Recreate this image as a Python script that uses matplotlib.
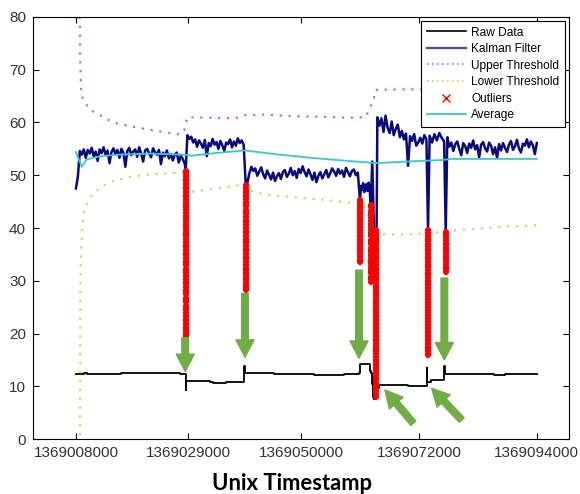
import numpy as np
import matplotlib
matplotlib.use("Agg")
import matplotlib.pyplot as plt
from matplotlib.lines import Line2D

plt.rcParams['font.family'] = ['Liberation Sans', 'DejaVu Sans']

# medição bruta (degraus)
raw_t = [1369008000, 1369009500, 1369010000, 1369016000, 1369016500, 1369027000, 1369027500,
         1369028400, 1369028500, 1369028600, 1369033000, 1369033500, 1369036000, 1369039300,
         1369039400, 1369039500, 1369045000, 1369048000, 1369052000, 1369052500, 1369058000,
         1369060800, 1369061000, 1369062600, 1369062800, 1369063000, 1369063200, 1369063400,
         1369063500, 1369063600, 1369063700, 1369063800, 1369063900, 1369064000, 1369064100,
         1369064300, 1369064500, 1369068000, 1369070000, 1369073350, 1369073450, 1369073550,
         1369074000, 1369074300, 1369076600, 1369076700, 1369076800, 1369085000, 1369086000,
         1369088000, 1369094000]
raw_v = [12.4, 12.5, 12.3, 12.3, 12.5, 12.5, 12.4,
         12.3, 9.3, 11.0, 10.9, 10.7, 10.8, 11.2,
         13.8, 12.5, 12.4, 12.3, 12.3, 12.2, 12.3,
         12.5, 14.2, 14.2, 12.8, 12.6, 10.5, 8.0,
         11.5, 7.5, 10.8, 8.4, 10.5, 9.0, 10.6,
         9.6, 10.3, 10.2, 10.0, 10.1, 13.4, 10.8,
         10.9, 11.2, 11.3, 13.8, 12.3, 12.3, 12.2,
         12.3, 12.3]

# saída do filtro de Kalman, por trecho
kal_1 = [47.5, 49.7, 54.6, 53.9, 54.9, 53.3, 54.8, 54.1, 55.2, 53.6, 54.5, 52.7, 54.9, 54.2,
         55.3, 53.9, 54.7, 52.3, 54.4, 55.1, 54.0, 54.8, 53.3, 55.0, 54.3, 51.6, 54.6, 55.2,
         53.8, 54.5, 54.9, 53.5, 55.3, 54.1, 52.6, 54.7, 55.0, 54.2, 53.4, 55.1, 54.4, 53.9,
         54.8, 52.1, 54.3, 53.6, 54.7, 53.2, 54.0, 52.8, 53.9, 54.3, 52.4, 53.7, 53.1, 52.2]
kal_2 = [57.6, 56.9, 57.3, 56.2, 56.8, 55.4, 56.6, 56.0, 55.2, 56.7, 53.6, 56.1, 55.5, 56.9,
         55.8, 56.3, 55.0, 56.5, 55.7, 54.6, 56.2, 55.9, 56.8, 55.3, 56.4, 55.6, 57.0, 56.1,
         56.6, 55.8]
kal_3 = [48.6, 50.4, 51.6, 50.8, 51.3, 49.9, 50.7, 51.5, 50.2, 49.4, 50.9, 50.1, 49.2, 50.5,
         48.9, 49.8, 50.4, 49.3, 50.6, 51.0, 49.7, 50.3, 51.4, 50.0, 50.8, 49.5, 51.2, 50.4,
         51.7, 50.6, 49.8, 51.1, 50.2, 49.1, 50.5, 48.7, 49.9, 50.6, 49.4, 50.2, 51.0, 49.6,
         50.4, 51.3, 50.7, 49.9, 51.2, 50.3, 50.9, 49.7, 51.4, 50.6, 49.8, 50.8, 51.1, 50.0,
         50.5]
kal_4 = [48.0, 47.2, 48.5, 46.8, 47.9, 48.3, 47.0, 48.6, 47.5]
kal_5 = [61.0, 59.4, 60.8, 58.2, 61.3, 59.0, 58.0, 60.2, 57.6, 58.8, 59.6, 57.2, 58.4, 56.8,
         57.9, 51.8, 57.4, 56.5, 57.8, 55.6, 56.2, 57.1, 56.0, 57.6, 56.8]
kal_6 = [57.5, 56.2, 57.8, 56.6, 58.0, 57.1, 56.4]
kal_7 = [57.2, 55.4, 56.2, 54.6, 55.9, 56.4, 55.0, 53.8, 56.1, 55.5, 54.2, 56.0, 55.2, 56.6,
         54.9, 55.7, 53.4, 55.8, 56.3, 55.1, 54.5, 56.2, 55.6, 54.0, 55.3, 53.3, 55.9, 54.7,
         56.1, 55.2, 54.4, 55.8, 56.5, 54.8, 55.5, 56.7, 55.1, 54.3, 56.0, 55.6, 56.8, 55.3,
         56.4, 55.7, 54.0, 56.1]
kal_trechos = [(1369008000, 1369028300, kal_1),
               (1369028800, 1369039300, kal_2),
               (1369040000, 1369060600, kal_3),
               (1369061200, 1369062800, kal_4),
               (1369064250, 1369073400, kal_5),
               (1369074000, 1369076700, kal_6),
               (1369077300, 1369094000, kal_7)]
kal_event_t = [1369028500, 1369039700, 1369061000, 1369063000, 1369063300, 1369063600,
               1369064100, 1369073700, 1369077000]
kal_event_v = [51.0, 48.1, 45.3, 44.4, 52.6, 39.6, 39.8, 39.6, 39.3]

# limiares
sup_t = [1369008700, 1369008800, 1369009000, 1369009350, 1369010650, 1369012500, 1369014950,
         1369018100, 1369021850, 1369025600, 1369027450, 1369028200, 1369028800, 1369037750,
         1369039600, 1369043350, 1369048000, 1369053600, 1369059250, 1369062050, 1369063550,
         1369063900, 1369071400, 1369094000]
sup_v = [85.0, 72.0, 65.5, 64.3, 62.4, 61.4, 60.0, 59.3, 58.6, 58.0, 57.7, 58.5, 61.0, 60.8,
         61.4, 61.5, 61.2, 61.1, 60.9, 61.0, 64.3, 66.2, 66.3, 66.6]
inf_t = [1369008750, 1369008850, 1369009000, 1369009350, 1369010300, 1369011600, 1369014400,
         1369018100, 1369021900, 1369027500, 1369028300, 1369028800, 1369030000, 1369037700,
         1369039200, 1369039700, 1369043400, 1369048000, 1369053600, 1369059300, 1369061500,
         1369063500, 1369064500, 1369068200, 1369073800, 1369079400, 1369086900, 1369094000]
inf_v = [-1.0, 30.0, 36.5, 42.1, 45.3, 46.9, 48.8, 49.7, 50.2, 50.5, 50.6, 47.0, 46.9, 48.0,
         48.2, 47.3, 46.3, 45.9, 45.4, 44.8, 44.6, 40.5, 38.9, 38.7, 39.0, 39.6, 40.2, 40.5]

# outliers detectados (um grupo por evento)
out_t = [1369028500, 1369039700, 1369061100, 1369063000, 1369063900, 1369073700, 1369077000]
out_v = [
    [50.9, 50.4, 49.8, 49.3, 48.9, 48.3, 47.8, 47.4, 46.9, 46.3, 45.8, 45.4, 44.8, 44.3, 43.9,
     43.4, 42.8, 42.3, 41.9, 41.3, 40.8, 40.4, 39.9, 39.3, 38.8, 38.4, 37.9, 37.3, 36.8, 36.4,
     35.8, 35.3, 34.9, 34.4, 33.8, 33.3, 32.9, 32.3, 31.8, 31.4, 30.9, 30.3, 29.8, 29.4, 28.8,
     28.3, 27.9, 27.4, 26.8, 26.3, 25.9, 25.3, 24.8, 24.4, 23.9, 23.3, 22.8, 22.4, 21.8, 21.3,
     20.9, 20.4, 19.9, 19.6],
    [48.1, 47.6, 47.0, 46.6, 46.1, 45.5, 45.0, 44.6, 44.1, 43.5, 43.0, 42.6, 42.0, 41.5, 41.1,
     40.6, 40.0, 39.5, 39.1, 38.5, 38.0, 37.6, 37.1, 36.5, 36.0, 35.6, 35.0, 34.5, 34.1, 33.6,
     33.0, 32.5, 32.1, 31.5, 31.0, 30.6, 30.1, 29.5, 29.0, 28.6, 28.2],
    [45.3, 44.8, 44.2, 43.7, 43.3, 42.8, 42.2, 41.7, 41.3, 40.8, 40.2, 39.7, 39.3, 38.7, 38.2,
     37.8, 37.3, 36.7, 36.2, 35.8, 35.3, 34.7, 34.2, 33.8, 33.6],
    [44.4, 43.9, 43.3, 42.8, 42.4, 41.9, 41.3, 40.8, 40.4, 39.8, 39.3, 38.9, 38.4, 37.8, 37.3,
     36.9, 36.3, 35.8, 35.4, 34.9, 34.3, 33.8, 33.4, 32.8, 32.3, 31.9, 31.4, 30.8, 30.3, 29.8],
    [39.6, 39.1, 38.5, 38.0, 37.6, 37.1, 36.5, 36.0, 35.6, 35.0, 34.5, 34.1, 33.6, 33.0, 32.5,
     32.1, 31.5, 31.0, 30.6, 30.1, 29.5, 29.0, 28.6, 28.0, 27.5, 27.1, 26.6, 26.0, 25.5, 25.1,
     24.5, 24.0, 23.6, 23.1, 22.5, 22.0, 21.6, 21.0, 20.5, 20.1, 19.6, 19.0, 18.5, 18.1, 17.5,
     17.0, 16.6, 16.1, 15.5, 15.0, 14.6, 14.0, 13.5, 13.1, 12.6, 12.0, 11.5, 11.1, 10.5, 10.0,
     9.6, 9.1, 8.5, 8.0],
    [39.6, 39.1, 38.5, 38.0, 37.6, 37.0, 36.5, 36.1, 35.6, 35.0, 34.5, 34.1, 33.5, 33.0, 32.6,
     32.1, 31.5, 31.0, 30.6, 30.0, 29.5, 29.1, 28.6, 28.0, 27.5, 27.1, 26.5, 26.0, 25.6, 25.1,
     24.5, 24.0, 23.6, 23.0, 22.5, 22.1, 21.6, 21.0, 20.5, 20.1, 19.5, 19.0, 18.6, 18.1, 17.5,
     17.0, 16.6, 16.2, 15.9],
    [39.3, 38.8, 38.3, 37.8, 37.2, 36.7, 36.3, 35.8, 35.2, 34.7, 34.3, 33.8, 33.2, 32.7, 32.2,
     31.7],
]

# média móvel
med_t = [1369008000, 1369009100, 1369010000, 1369012500, 1369016000, 1369022000, 1369028300,
         1369029500, 1369034000, 1369039500, 1369046000, 1369053000, 1369059000, 1369064000,
         1369070000, 1369076500, 1369078000, 1369094000]
med_v = [54.4, 51.6, 53.0, 53.6, 53.9, 54.1, 53.9, 53.7, 54.2, 54.7, 53.9, 53.2, 52.7, 52.3,
         52.6, 52.9, 53.1, 53.1]

# setas de destaque: (origem t, origem v, ponta t, ponta v)
setas = [(1369028400, 19.2, 1369028400, 12.8),
         (1369039550, 27.6, 1369039550, 15.5),
         (1369060820, 32.0, 1369060820, 15.3),
         (1369076740, 30.5, 1369076740, 15.0),
         (1369070950, 3.0, 1369065670, 9.3),
         (1369079980, 3.6, 1369074390, 9.6)]

xticks = [1369008000, 1369029000, 1369050000, 1369072000, 1369094000]
yticks = list(range(0, 81, 10))


def montar_kalman():
    ts = [np.linspace(t0, t1, len(v)) for t0, t1, v in kal_trechos]
    vs = [np.array(v) for _, _, v in kal_trechos]
    t = np.concatenate(ts + [np.array(kal_event_t, dtype=float)])
    v = np.concatenate(vs + [np.array(kal_event_v)])
    ordem = np.argsort(t)
    return t[ordem], v[ordem]


def plotar():
    fig = plt.figure(figsize=(5.8, 4.94), dpi=100)
    ax = fig.add_axes([33 / 580, 55 / 494, 536 / 580, 422 / 494])

    kt, kv = montar_kalman()
    ax.step(raw_t, raw_v, where="post", color="black", lw=1.3)
    ax.plot(kt, kv, color="#0a0a80", lw=1.8)
    ax.plot(sup_t, sup_v, color="#d260d2", lw=1.6, linestyle=(0, (1, 3)))
    ax.plot(inf_t, inf_v, color="#d6d65a", lw=1.6, linestyle=(0, (1, 3)))
    for t, vals in zip(out_t, out_v):
        ax.plot(np.full(len(vals), t), vals, "x", color="red", ms=2.6, mew=2.7)
    ax.plot(med_t, med_v, color="#3cc8c8", lw=1.3)

    for t0, v0, t1, v1 in setas:
        ax.annotate("", xy=(t1, v1), xytext=(t0, v0),
                    arrowprops=dict(arrowstyle="simple,head_length=1.25,head_width=1.3,tail_width=0.48",
                                    color="#70ad47", shrinkA=0, shrinkB=0))

    ax.set_xlim(1369000000, 1369100000)
    ax.set_ylim(0, 80)
    ax.set_xticks(xticks)
    ax.set_xticklabels([str(t) for t in xticks])
    ax.set_yticks(yticks)
    ax.tick_params(direction="in", length=4, width=0.8, top=True, right=True,
                   labelsize=11, labelcolor="#333333", pad=5)
    for s in ax.spines.values():
        s.set_linewidth(0.8)

    handles = [Line2D([], [], color="black", lw=1.2),
               Line2D([], [], color="#4646cc", lw=1.6),
               Line2D([], [], color="#d260d2", lw=1.2, linestyle=(0, (1, 2))),
               Line2D([], [], color="#d6d65a", lw=1.2, linestyle=(0, (1, 2))),
               Line2D([], [], color="red", marker="x", ls="none", ms=6, mew=1.0),
               Line2D([], [], color="#3cc8c8", lw=1.3)]
    labels = ["Raw Data", "Kalman Filter", "Upper Threshold", "Lower Threshold",
              "Outliers", "Average"]
    leg = ax.legend(handles, labels, loc="upper right", fontsize=8.6, borderaxespad=0.35,
                    handlelength=3.3, handletextpad=0.45, labelspacing=0.38, borderpad=0.45,
                    fancybox=False, framealpha=1, edgecolor="black")
    leg.get_frame().set_linewidth(0.8)

    fig.text(292 / 580, 0.5 / 494, "Unix Timestamp", ha="center", va="bottom",
             fontsize=15.8, fontweight="bold", family=["Lato", "DejaVu Sans"])

    fig.savefig("out.png", dpi=100)


if __name__ == "__main__":
    plotar()
